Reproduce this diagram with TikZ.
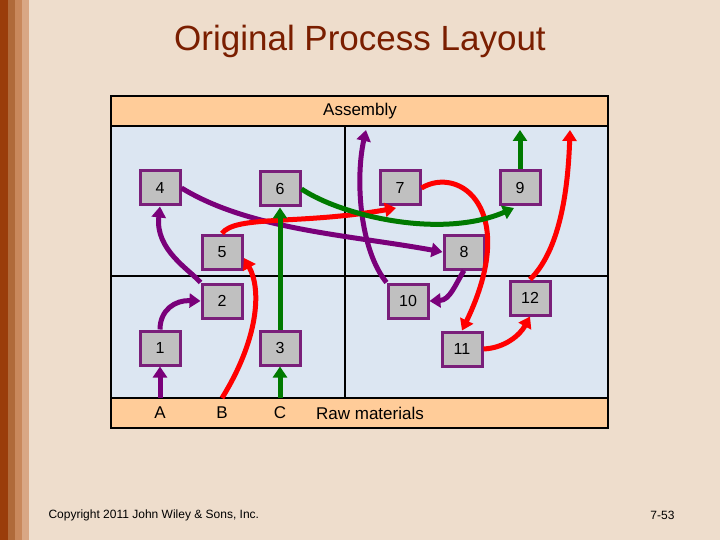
\documentclass[tikz,border=0pt]{standalone}
\usepackage{fontspec}
\setmainfont{Liberation Sans}
\usetikzlibrary{arrows.meta}
\definecolor{bgtan}{HTML}{EEDDCC}
\definecolor{band}{HTML}{FFCC99}
\definecolor{field}{HTML}{DCE6F2}
\definecolor{boxgray}{HTML}{C0C0C0}
\definecolor{boxpurple}{HTML}{7A1F7A}
\definecolor{ppl}{HTML}{7A007A}
\definecolor{rd}{HTML}{FF0000}
\definecolor{gr}{HTML}{007A00}
\definecolor{titlecol}{HTML}{7A1E00}
\definecolor{s1}{HTML}{9A3D0A}
\definecolor{s2}{HTML}{B06A3A}
\definecolor{s3}{HTML}{C9885C}
\definecolor{s4}{HTML}{D9A785}
\begin{document}
\begin{tikzpicture}[x=1pt,y=-1pt,
  dept/.style={draw=boxpurple,line width=3pt,fill=boxgray,minimum width=40pt,minimum height=34pt,inner sep=0pt,font=\fontsize{16}{16}\selectfont},
  flow/.style={line width=5pt,-{Triangle[length=11pt,width=14pt]}},
  lbl/.style={font=\fontsize{17}{17}\selectfont}]
\fill[bgtan] (0,0) rectangle (720,540);
\fill[s1] (0,0) rectangle (8,540);
\fill[s2] (8,0) rectangle (15,540);
\fill[s3] (15,0) rectangle (22,540);
\fill[s4] (22,0) rectangle (29,540);
\useasboundingbox (0,0) rectangle (720,540);
\node[text=titlecol,font=\fontsize{35}{35}\selectfont] (title) at (360,41) {Original Process Layout};
\fill[field] (111,126) rectangle (608,398);
\fill[band] (111,96) rectangle (608,126);
\fill[band] (111,398) rectangle (608,428);
\draw[line width=2pt] (111,96) rectangle (608,428);
\draw[line width=2pt] (111,126) -- (608,126) (111,398) -- (608,398) (111,276) -- (608,276) (345,126) -- (345,398);
\node[lbl] (asm) at (360,111) {Assembly};
\node[lbl] (A) at (160,413) {A};
\node[lbl] (B) at (222,413) {B};
\node[lbl] (C) at (280,413) {C};
\node[lbl] (raw) at (370,413) {Raw materials};
\node[dept] (n4) at (160,188) {4};
\node[dept] (n6) at (280,189) {6};
\node[dept] (n7) at (400,188) {7};
\node[dept] (n9) at (520,188) {9};
\node[dept] (n5) at (222,252) {5};
\node[dept] (n8) at (464,252) {8};
\node[dept] (n2) at (222,301) {2};
\node[dept] (n10) at (408,301) {10};
\node[dept] (n12) at (530,298) {12};
\node[dept] (n1) at (160,348) {1};
\node[dept] (n3) at (280,348) {3};
\node[dept] (n11) at (462,349) {11};
\coordinate (pA) at (160,398);
\coordinate (pB) at (222,398);
\coordinate (pC) at (280,398);
\coordinate (tP) at (366,130);
\coordinate (tG) at (520,130);
\coordinate (tR) at (570,130);
% purple
\draw[flow,ppl] (pA) -- (n1.south);
\draw[flow,ppl] (n1.north) .. controls (160,310) and (175,300) .. (n2.west);
\draw[flow,ppl] (n2.north west) .. controls (190,270) and (155,250) .. (n4.south);
\draw[flow,ppl] (n4.east) .. controls (250,230) and (350,235) .. (n8.west);
\draw[flow,ppl] (n8.south) .. controls (455,285) and (450,300) .. (n10.east);
\draw[flow,ppl] (n10.north west) .. controls (360,250) and (355,180) .. (tP);
% red
\draw[flow,rd] (pB) .. controls (258,340) and (262,290) .. (244,258);
\draw[flow,rd] (n5.north) .. controls (235,215) and (300,225) .. (396,208);
\draw[flow,rd] (n7.east) .. controls (460,165) and (520,210) .. (n11.north);
\draw[flow,rd] (n11.east) .. controls (505,348) and (520,335) .. (n12.south);
\draw[flow,rd] (n12.north) .. controls (560,250) and (568,190) .. (tR);
% green
\draw[flow,gr] (pC) -- (n3.south);
\draw[flow,gr] (n3.north) -- (n6.south);
\draw[flow,gr] (n6.east) .. controls (340,215) and (440,240) .. (514,208);
\draw[flow,gr] (n9.north) -- (tG);
\node[font=\fontsize{12}{12}\selectfont,anchor=west] (copy) at (45,515) {Copyright 2011 John Wiley \& Sons, Inc.};
\node[font=\fontsize{12}{12}\selectfont,anchor=east] (pg) at (678,515) {7-53};
\end{tikzpicture}
\end{document}
